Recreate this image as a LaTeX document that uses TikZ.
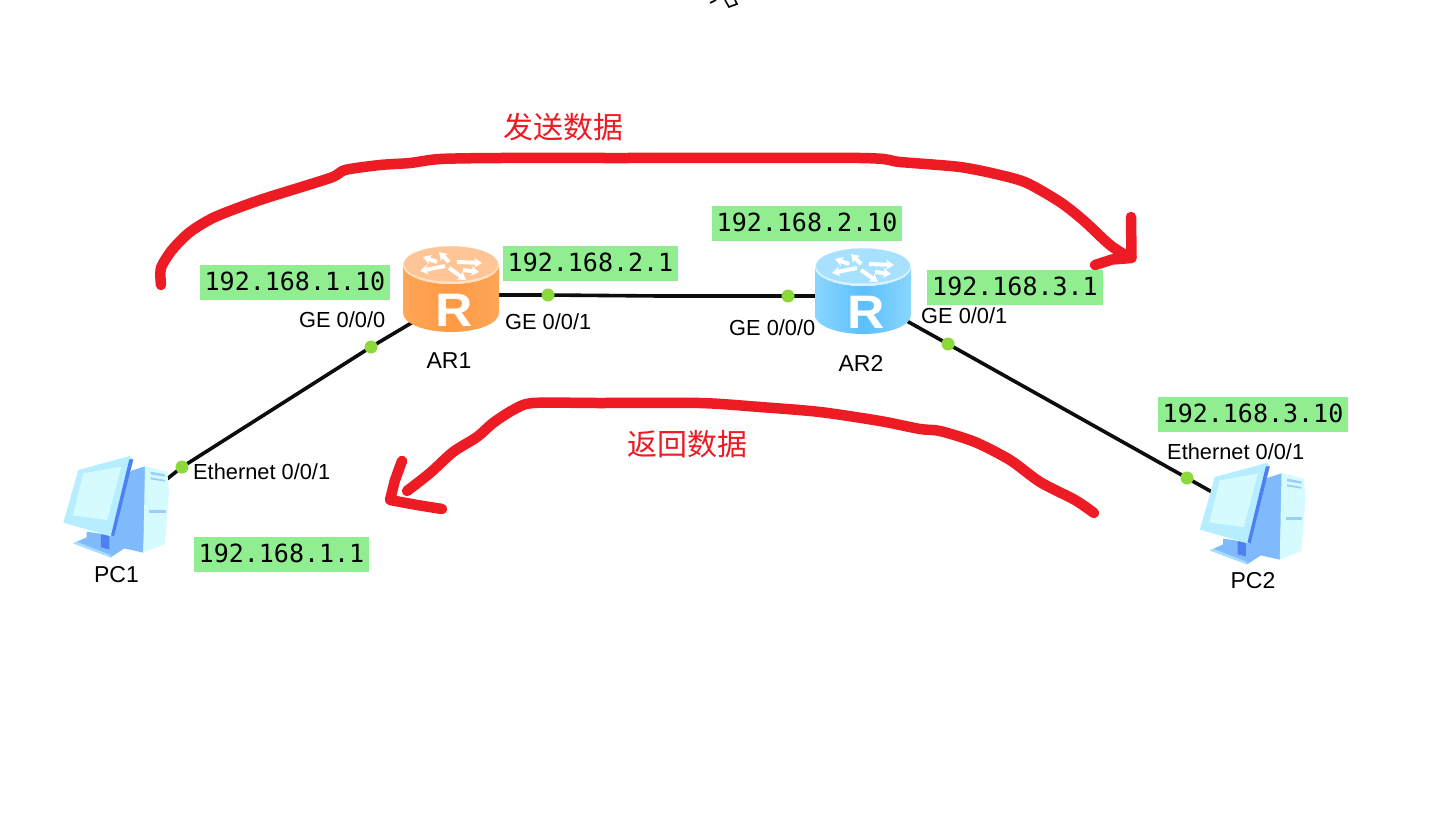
\documentclass[tikz,border=0pt]{standalone}
\usepackage{fontspec}
\setmainfont{Liberation Sans}
\setmonofont{DejaVu Sans Mono}
\newfontfamily\cjkfont{Noto Sans CJK SC}
\usetikzlibrary{arrows.meta,backgrounds}
\definecolor{penred}{HTML}{ED1C24}
\definecolor{ipgreen}{HTML}{90EE90}
\definecolor{portgreen}{HTML}{8CD93A}
\definecolor{pclight}{HTML}{D6FBFF}
\definecolor{pcframe}{HTML}{B6EDFF}
\definecolor{pcmid}{HTML}{7FBAFC}
\definecolor{pcdark}{HTML}{4F80F2}
\definecolor{oredge}{HTML}{FFA657}
\definecolor{ormid}{HTML}{FF9A45}
\definecolor{ortop}{HTML}{FFC596}
\definecolor{orrim}{HTML}{FFE2C4}
\definecolor{bledge}{HTML}{8AD6FF}
\definecolor{blmid}{HTML}{5CBFFC}
\definecolor{bltop}{HTML}{A8E0FF}
\definecolor{blrim}{HTML}{D8F3FF}
\tikzset{
  ipbox/.style={fill=ipgreen,inner sep=0pt,minimum height=35,text height=20,text depth=4,font=\ttfamily\fontsize{25}{25}\selectfont,text=black},
  port/.style={font=\fontsize{21.8}{21.8}\selectfont,text=black,inner sep=0pt},
  devname/.style={font=\fontsize{23}{23}\selectfont,text=black,inner sep=0pt},
  portdot/.style={circle,fill=portgreen,inner sep=0pt,minimum size=13},
  wire/.style={line width=3.6,black!95},
  penstroke/.style={penred,line width=10.5,line cap=round,line join=round},
  handnote/.style={font=\cjkfont\fontsize{30}{30}\selectfont,text=penred,inner sep=0pt},
  iconbox/.style={inner sep=0pt,minimum width=96,minimum height=86},
  logo/.style={white,line width=4,-{Stealth[length=8,width=10]}}
}
\newcommand{\routericon}[6]{%
  % #1 x, #2 y (top ellipse centre), #3 edge, #4 mid, #5 top, #6 rim
  \begin{scope}[shift={(#1,#2)}]
    \shade[left color=#3,right color=#3,middle color=#4]
      (-48,0) -- (-48,48) arc[start angle=180,end angle=0,x radius=48,y radius=19] -- (48,0)
      arc[start angle=0,end angle=180,x radius=48,y radius=19] -- cycle;
    \fill[#6] (0,0) ellipse[x radius=48,y radius=19];
    \fill[#5] (0,-1) ellipse[x radius=47,y radius=17.5];
    \draw[logo] (-6,1) -- (-31,6);
    \draw[logo] (6,-3) -- (31,-2);
    \draw[logo] (-2,-3) -- (-12,-13);
    \draw[logo] (-2,3) -- (15,15);
    \draw[logo] (-14,-3) -- (-28,-8);
    \draw[logo] (12,5) -- (28,7);
    \node[inner sep=0pt,text=white,xscale=1.1,transform shape,font=\bfseries\fontsize{47}{47}\selectfont] at (3,45) {R};
  \end{scope}}
\newcommand{\pcicon}[2]{%
  \begin{scope}[shift={(#1,#2)},scale=0.3333]
    % tower side
    \fill[pcmid] (170,250) -- (205,140) -- (245,92) -- (288,78) -- (280,338) -- (178,315) -- cycle;
    % tower front
    \fill[pclight] (285,78) -- (352,95) -- (357,155) -- (345,312) -- (280,338) -- cycle;
    \fill[pcmid!70!pclight] (302,95) -- (345,103) -- (345,110) -- (302,103) -- cycle;
    \fill[pcmid!70!pclight] (302,112) -- (345,120) -- (345,125) -- (302,118) -- cycle;
    \fill[pcmid!70!pclight] (297,210) -- (347,210) -- (347,218) -- (297,218) -- cycle;
    % stand
    \fill[pcmid] (70,310) -- (110,292) -- (228,322) -- (182,352) -- cycle;
    \fill[pcframe!70!pcmid] (70,310) -- (182,352) -- (182,345) -- (80,305) -- cycle;
    \fill[pcmid] (110,275) -- (178,285) -- (178,328) -- (110,305) -- cycle;
    \fill[pcdark] (153,283) -- (178,288) -- (178,328) -- (153,322) -- cycle;
    % monitor
    \fill[pcframe] (40,248) -- (85,90) -- (240,48) -- (250,58) -- (190,290) -- (180,288) -- cycle;
    \fill[pcdark] (238,58) -- (250,58) -- (192,290) -- (183,286) -- cycle;
    \fill[pclight] (68,226) -- (100,100) -- (214,80) -- (172,240) -- cycle;
  \end{scope}}
\begin{document}
\begin{tikzpicture}[x=1pt,y=-1pt]
\useasboundingbox (0,0) rectangle (1450,817);
\begin{scope}[on background layer]
  \fill[white] (0,0) rectangle (1450,817);
\end{scope}

% fragment cut by the top edge
\draw[black,line width=1.6] (710,3) -- (716,0);
\draw[black,line width=1.6] (725,0) -- (729,7) -- (737,4) -- (735,0);

% device anchors
\node[iconbox] (AR1) at (451,289) {};
\node[iconbox] (AR2) at (863,291) {};
\node[inner sep=0pt,minimum width=102,minimum height=100] (PC1) at (116,506) {};
\node[inner sep=0pt,minimum width=102,minimum height=100] (PC2) at (1252,513) {};

% port dots
\node[portdot] (p1) at (371,347) {};
\node[portdot] (p2) at (182,467) {};
\node[portdot] (p3) at (548,295) {};
\node[portdot] (p4) at (788,296) {};
\node[portdot] (p5) at (948,344) {};
\node[portdot] (p6) at (1187,478) {};

% links
\begin{scope}[on background layer]
  \draw[wire] (413,322) -- (p1.center) -- (p2.center) -- (167,479);
  \draw[wire] (AR1.east |- p3) -- (p3.center) -- (660,296) -- (p4.center) -- (AR2.west |- p4);
  \draw[wire] (905,320) -- (p5.center) -- (p6.center) -- (1212,492);
\end{scope}

% icons
\routericon{451}{265}{oredge}{ormid}{ortop}{orrim}
\routericon{863}{267}{bledge}{blmid}{bltop}{blrim}
\pcicon{50}{440}
\pcicon{1186.5}{447}

% device names
\node[devname] (nAR1) at (449,361) {AR1};
\node[devname] (nAR2) at (861,363) {AR2};
\node[devname] (nPC1) at (116.5,575) {PC1};
\node[devname] (nPC2) at (1253,581) {PC2};

% port labels
\node[port,anchor=west] (g1) at (299,320) {GE 0/0/0};
\node[port,anchor=west] (g2) at (505,322) {GE 0/0/1};
\node[port,anchor=west] (g3) at (729,328) {GE 0/0/0};
\node[port,anchor=west] (g4) at (921,316) {GE 0/0/1};
\node[port,anchor=west] (e1) at (193,472) {Ethernet 0/0/1};
\node[port,anchor=west] (e2) at (1167,452) {Ethernet 0/0/1};

% address labels
\node[ipbox,minimum width=190] (ip1) at (295,282) {192.168.1.10};
\node[ipbox,minimum width=175] (ip2) at (590.5,263) {192.168.2.1};
\node[ipbox,minimum width=190] (ip3) at (807,223.5) {192.168.2.10};
\node[ipbox,minimum width=176] (ip4) at (1015,287.5) {192.168.3.1};
\node[ipbox,minimum width=190] (ip5) at (1253,414) {192.168.3.10};
\node[ipbox,minimum width=175] (ip6) at (281.5,554.5) {192.168.1.1};

% hand-drawn arrows
\draw[penstroke] plot[smooth,tension=0.45] coordinates {(161,285) (161,268) (172,250) (190,232) (215,217) (260,200) (330,178) (345,170) (380,165) (410,163) (440,159) (500,158) (620,158) (860,158) (900,162) (960,167) (1000,175) (1027,183) (1060,202) (1083,220) (1110,245) (1130,258)};
\draw[penstroke] (1131,217) -- (1131.5,258) -- (1112,259.5) -- (1095,265);
\draw[penstroke] plot[smooth,tension=0.45] coordinates {(1094,513) (1075,500) (1040,482) (1010,460) (975,442) (940,431) (920,429) (880,421) (820,412) (760,407) (700,403) (600,403) (533,403) (513,410) (493,423) (477,437) (453,452) (430,473) (407,491)};
\draw[penstroke] (402,461) -- (395,480) -- (390,500) -- (417,505) -- (442,509);

% hand-written notes
\node[handnote] (n1) at (563,127) {发送数据};
\node[handnote] (n2) at (687,444) {返回数据};
\end{tikzpicture}
\end{document}
